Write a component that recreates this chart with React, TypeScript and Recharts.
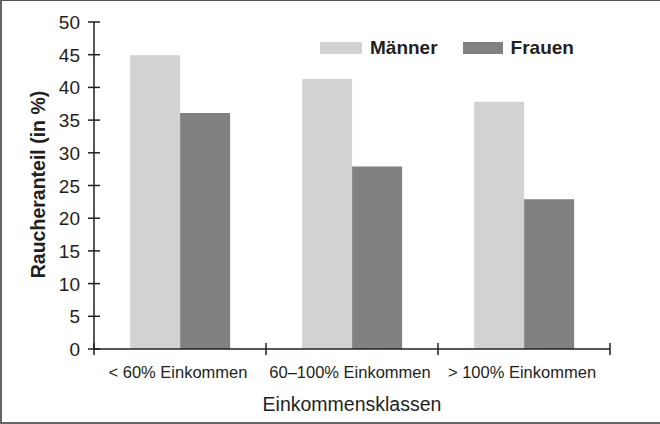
import React from "react";
import { BarChart, Bar, XAxis, YAxis, Label } from "recharts";

const categories = ["< 60% Einkommen", "60–100% Einkommen", "> 100% Einkommen"];
const maenner = [44.9, 41.3, 37.8];
const frauen = [36.1, 27.9, 22.9];
const yTicks = [0, 5, 10, 15, 20, 25, 30, 35, 40, 45, 50];
const seriesNames = ["Männer", "Frauen"];
const colors = ["#d1d2d4", "#808183"];

const data = categories.map((c, i) => ({ name: c, m: maenner[i], f: frauen[i] }));

const FONT = "'Liberation Sans', Arial, Helvetica, sans-serif";
const INK = "#231f20";

const YTick = (props: any) => {
  const { x, y, payload } = props;
  return (
    <g>
      <line x1={x - 6} x2={x + 6} y1={y} y2={y} stroke={INK} strokeWidth={1.5} />
      <text x={x - 14} y={y + 7} textAnchor="end" fontSize={19} fill={INK} fontFamily={FONT}>
        {payload.value}
      </text>
    </g>
  );
};

const XTick = (props: any) => {
  const { x, y, payload, index, visibleTicksCount } = props;
  const half = payload.offset ?? 86;
  const last = index === (visibleTicksCount ?? categories.length) - 1;
  return (
    <g>
      <line x1={x - half} x2={x - half} y1={y - 6} y2={y + 6} stroke={INK} strokeWidth={1.5} />
      {last && <line x1={x + half} x2={x + half} y1={y - 6} y2={y + 6} stroke={INK} strokeWidth={1.5} />}
      <text x={x - 2} y={y + 29} textAnchor="middle" fontSize={16.5} fill={INK} fontFamily={FONT}>
        {payload.value}
      </text>
    </g>
  );
};

const LegendBox = () => (
  <div
    style={{
      position: "absolute",
      left: 320,
      top: 36,
      display: "flex",
      alignItems: "center",
      fontFamily: FONT,
      fontWeight: "bold",
      fontSize: 19,
      color: INK,
      lineHeight: "24px",
    }}
  >
    {seriesNames.map((n, i) => (
      <div key={n} style={{ display: "flex", alignItems: "center", marginRight: i === 0 ? 25 : 0 }}>
        <span style={{ display: "inline-block", width: i === 0 ? 42 : 40, height: 12, background: colors[i], marginRight: 8 }} />
        <span>{n}</span>
      </div>
    ))}
  </div>
);

export default function App() {
  return (
    <div
      style={{
        position: "fixed",
        left: 0,
        top: 0,
        width: 660,
        height: 424,
        background: "#fff",
        boxSizing: "border-box",
        borderTop: "1px solid #555",
        borderLeft: "2px solid #666",
        borderBottom: "2px solid #666",
      }}
    >
      <div style={{ position: "absolute", left: -2, top: -1 }}>
        <BarChart
          width={660}
          height={424}
          data={data}
          margin={{ top: 22, right: 50, bottom: 0, left: 0 }}
          barCategoryGap="21%"
          barGap={0}
        >
          <XAxis
            dataKey="name"
            height={75}
            axisLine={{ stroke: INK, strokeWidth: 1.5 }}
            tickLine={false}
            tickSize={0}
            tickMargin={0}
            tick={<XTick />}
            interval={0}
          >
            <Label
              content={(p: any) => {
                const vb = p.viewBox;
                return (
                  <text x={vb.x + vb.width / 2} y={vb.y + vb.height - 13} textAnchor="middle" fontSize={19.5} fill={INK} fontFamily={FONT}>
                    Einkommensklassen
                  </text>
                );
              }}
            />
          </XAxis>
          <YAxis
            width={94}
            domain={[0, 50]}
            ticks={yTicks}
            interval={0}
            axisLine={{ stroke: INK, strokeWidth: 1.5 }}
            tickLine={false}
            tickSize={0}
            tickMargin={0}
            tick={<YTick />}
          >
            <Label
              content={(p: any) => {
                const vb = p.viewBox;
                const cx = vb.x + 45;
                const cy = vb.y + vb.height / 2 - 1;
                return (
                  <text x={cx} y={cy} transform={`rotate(-90, ${cx}, ${cy})`} textAnchor="middle" fontSize={19.5} fontWeight="bold" fill={INK} fontFamily={FONT}>
                    Raucheranteil (in %)
                  </text>
                );
              }}
            />
          </YAxis>
          <Bar dataKey="m" name={seriesNames[0]} fill={colors[0]} isAnimationActive={false} />
          <Bar dataKey="f" name={seriesNames[1]} fill={colors[1]} isAnimationActive={false} />
        </BarChart>
        <LegendBox />
      </div>
    </div>
  );
}
